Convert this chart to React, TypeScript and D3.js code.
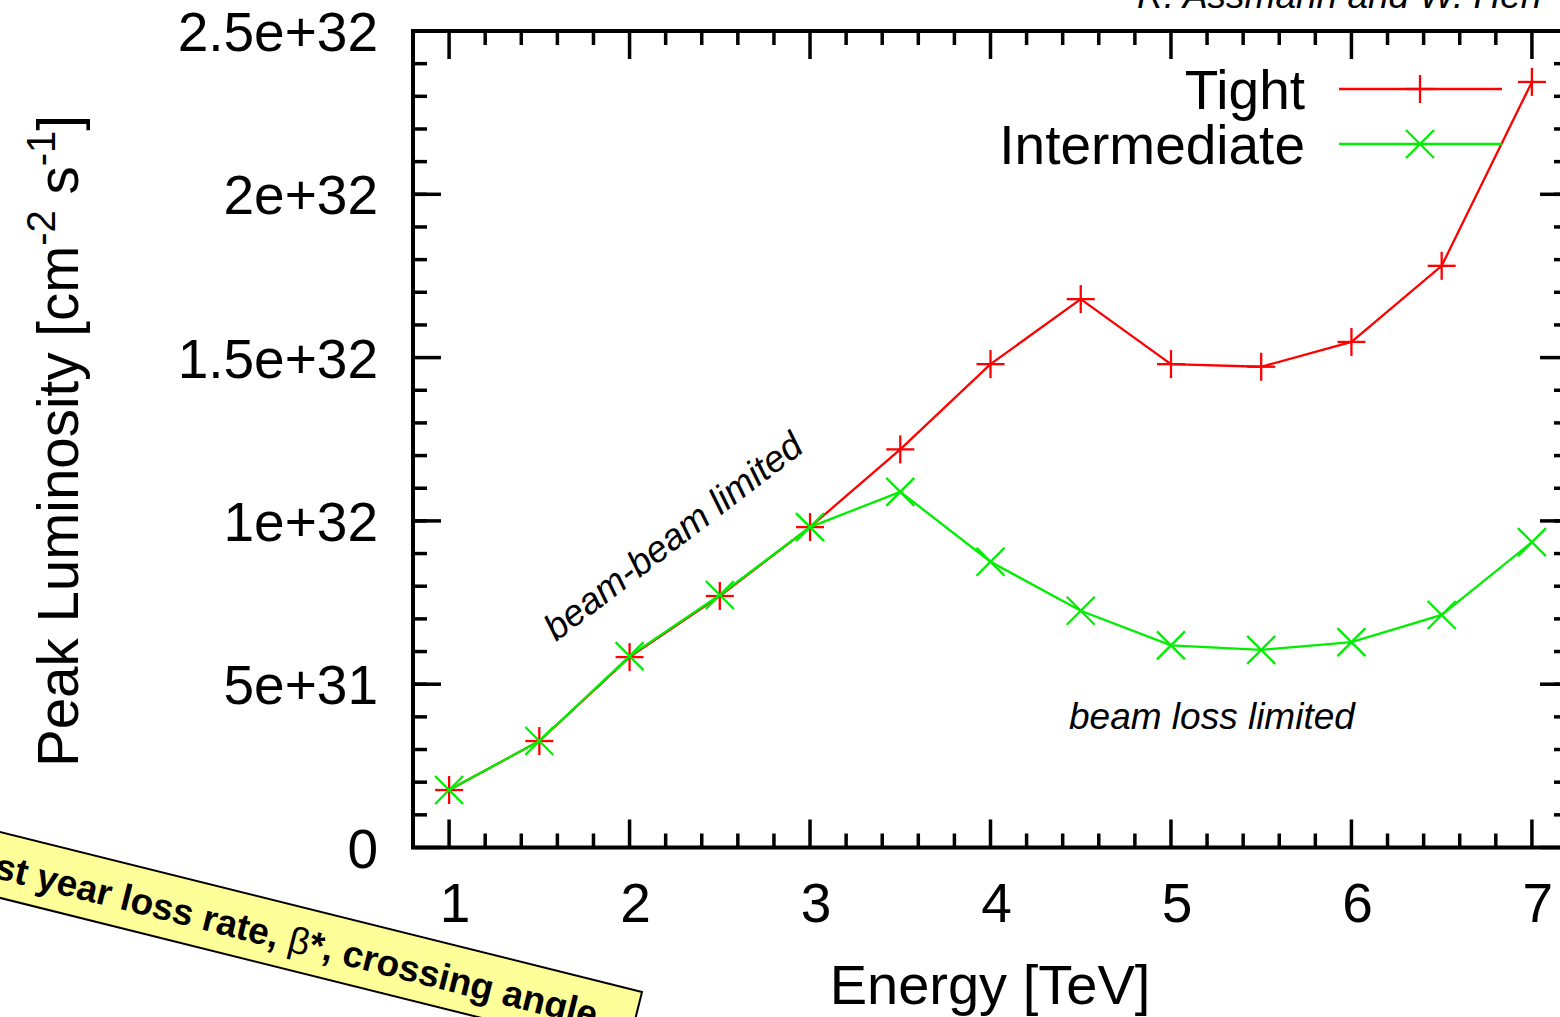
import React from "react";
import * as d3 from "d3";

const energies = [1, 1.5, 2, 2.5, 3, 3.5, 4, 4.5, 5, 5.5, 6, 6.5, 7];
const tight = [1.76e31, 3.26e31, 5.83e31, 7.7e31, 9.81e31, 1.219e32, 1.48e32, 1.679e32, 1.48e32, 1.472e32, 1.548e32, 1.781e32, 2.344e32];
const intermediate = [1.76e31, 3.26e31, 5.86e31, 7.73e31, 9.81e31, 1.089e32, 8.75e31, 7.25e31, 6.19e31, 6.05e31, 6.29e31, 7.12e31, 9.35e31];
const xTicks = [1, 2, 3, 4, 5, 6, 7];
const xTickLabels = ["1", "2", "3", "4", "5", "6", "7"];
const yTicks = [0, 5e31, 1e32, 1.5e32, 2e32, 2.5e32];
const yTickLabels = ["0", "5e+31", "1e+32", "1.5e+32", "2e+32", "2.5e+32"];
const seriesNames = ["Tight", "Intermediate"];
const seriesColors = ["#ff0000", "#00ee00"];

const FONT = "'Liberation Sans', Arial, Helvetica, sans-serif";

export default function App() {
  const W = 1560, H = 1017;
  const L = 413, R = 1568, T = 31, B = 847.5;
  const x = d3.scaleLinear().domain([0.8, 7.2]).range([L, R]);
  const y = d3.scaleLinear().domain([0, 2.5e32]).range([B, T]);
  const xMinor = d3.range(8, 73, 2).map((v) => v / 10).filter((v) => !xTicks.includes(v));
  const yMinor = d3.range(0, 26).map((v) => v * 1e31).filter((v) => !yTicks.includes(v));
  const line = d3.line<number>().x((_, i) => x(energies[i])).y((d) => y(d));
  const series = [tight, intermediate];
  const ms = 14;

  const plus = (cx: number, cy: number, c: string, k: string) => (
    <g key={k} stroke={c} strokeWidth={2.3}>
      <line x1={cx - ms} x2={cx + ms} y1={cy} y2={cy} />
      <line x1={cx} x2={cx} y1={cy - ms} y2={cy + ms} />
    </g>
  );
  const cross = (cx: number, cy: number, c: string, k: string) => (
    <g key={k} stroke={c} strokeWidth={2.3}>
      <line x1={cx - ms} x2={cx + ms} y1={cy - ms} y2={cy + ms} />
      <line x1={cx - ms} x2={cx + ms} y1={cy + ms} y2={cy - ms} />
    </g>
  );
  const markers = [plus, cross];

  const boxAngle = 14;
  const boxLen = 760;
  const boxH = 64;

  return (
    <svg width={W} height={H} style={{ position: "absolute", left: 0, top: 0, background: "#fff" }} fontFamily={FONT}>
      <rect x={0} y={0} width={W} height={H} fill="#fff" />
      <text x={1137} y={8} fontSize={37} fontStyle="italic" fill="#000">R. Assmann and W. Herr</text>

      <g stroke="#000" strokeWidth={3.5}>
        {xTicks.map((v) => (
          <g key={"xt" + v}>
            <line x1={x(v)} x2={x(v)} y1={B} y2={B - 28} />
            <line x1={x(v)} x2={x(v)} y1={T} y2={T + 28} />
          </g>
        ))}
        {xMinor.map((v) => (
          <g key={"xm" + v}>
            <line x1={x(v)} x2={x(v)} y1={B} y2={B - 14} />
            <line x1={x(v)} x2={x(v)} y1={T} y2={T + 14} />
          </g>
        ))}
        {yTicks.map((v) => (
          <g key={"yt" + v}>
            <line x1={L} x2={L + 28} y1={y(v)} y2={y(v)} />
            <line x1={R} x2={R - 28} y1={y(v)} y2={y(v)} />
          </g>
        ))}
        {yMinor.map((v) => (
          <g key={"ym" + v}>
            <line x1={L} x2={L + 14} y1={y(v)} y2={y(v)} />
            <line x1={R} x2={R - 14} y1={y(v)} y2={y(v)} />
          </g>
        ))}
      </g>
      <rect x={L} y={T} width={R - L} height={B - T} fill="none" stroke="#000" strokeWidth={4} />

      {yTicks.map((v, i) => (
        <text key={"yl" + v} x={378} y={y(v) + 20} fontSize={55} textAnchor="end" fill="#000">{yTickLabels[i]}</text>
      ))}
      {xTicks.map((v, i) => (
        <text key={"xl" + v} x={x(v) + 6} y={922} fontSize={55} textAnchor="middle" fill="#000">{xTickLabels[i]}</text>
      ))}

      <text x={990} y={1004} fontSize={56} textAnchor="middle" fill="#000">Energy [TeV]</text>
      <text transform="translate(78,441) rotate(-90)" fontSize={56.5} textAnchor="middle" fill="#000">
        Peak Luminosity [cm<tspan fontSize={40} dy={-23}>-2</tspan><tspan dy={23}> s</tspan><tspan fontSize={40} dy={-23}>-1</tspan><tspan dy={23}>]</tspan>
      </text>

      {series.map((s, si) => (
        <g key={"s" + si}>
          <path d={line(s) || ""} fill="none" stroke={seriesColors[si]} strokeWidth={2.3} />
          {s.map((v, i) => markers[si](x(energies[i]), y(v), seriesColors[si], "m" + si + "-" + i))}
        </g>
      ))}

      {seriesNames.map((n, i) => {
        const ly = 89 + i * 55;
        return (
          <g key={"lg" + i}>
            <text x={1305} y={ly + 19.5} fontSize={55} textAnchor="end" fill="#000">{n}</text>
            <line x1={1339} x2={1502} y1={ly} y2={ly} stroke={seriesColors[i]} strokeWidth={2.3} />
            {markers[i](1420, ly, seriesColors[i], "lm" + i)}
          </g>
        );
      })}

      <text transform="translate(556,642) rotate(-37.5)" fontSize={37} fontStyle="italic" fill="#000">beam-beam limited</text>
      <text x={1069} y={729} fontSize={37} fontStyle="italic" fill="#000">beam loss limited</text>

      <g transform={`translate(642,992) rotate(${boxAngle})`}>
        <rect x={-boxLen} y={0} width={boxLen} height={boxH} fill="#ffff99" stroke="#000" strokeWidth={2} />
        <text x={-38} y={46} fontSize={37} fontWeight="bold" textAnchor="end" fill="#000">
          First year loss rate, <tspan fontWeight="normal">β</tspan>*, crossing angle
        </text>
      </g>
    </svg>
  );
}
